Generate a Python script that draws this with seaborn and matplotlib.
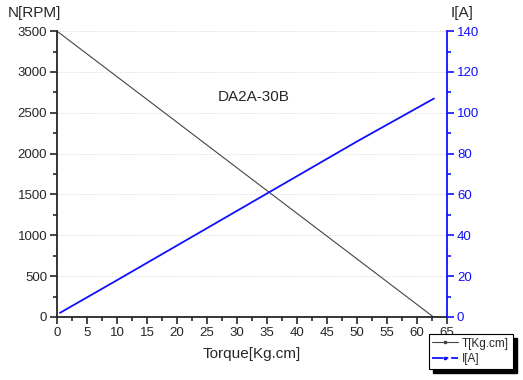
import numpy as np
import pandas as pd
import matplotlib.pyplot as plt
import seaborn as sns
from matplotlib.ticker import MultipleLocator
from matplotlib.lines import Line2D
from matplotlib.patches import Rectangle

torque_n = [0, 10, 20, 30, 40, 50, 62.7]
speed = [3500, 2942, 2384, 1825, 1267, 709, 0]
torque_i = [0.5, 10, 20, 30, 40, 50, 62.8]
current = [2, 18, 35, 52, 69, 86, 107]

df_n = pd.DataFrame({"torque": torque_n, "speed": speed})
df_i = pd.DataFrame({"torque": torque_i, "current": current})

sns.set_style("ticks")
plt.rcParams["font.family"] = ["Liberation Sans", "DejaVu Sans"]

fig = plt.figure(figsize=(5.23, 3.80), dpi=100)
ax = fig.add_axes([0.109, 0.166, 0.746, 0.752])
ax2 = ax.twinx()

sns.lineplot(data=df_n, x="torque", y="speed", ax=ax, color="#444444", lw=0.8)
sns.lineplot(data=df_i, x="torque", y="current", ax=ax2, color="#1010ff", lw=1.3)

ax.set_xlim(0, 65)
ax.set_ylim(0, 3500)
ax2.set_ylim(0, 140)
ax.xaxis.set_major_locator(MultipleLocator(5))
ax.xaxis.set_minor_locator(MultipleLocator(2.5))
ax.yaxis.set_major_locator(MultipleLocator(500))
ax.yaxis.set_minor_locator(MultipleLocator(250))
ax2.yaxis.set_major_locator(MultipleLocator(20))
ax2.yaxis.set_minor_locator(MultipleLocator(10))

ax.grid(axis="y", ls=(0, (1, 2)), color="#c8c8c8", lw=0.6)
for a in (ax, ax2):
    a.spines["top"].set_visible(False)
ax.spines["right"].set_visible(False)
ax.spines["left"].set_linewidth(1.3)
ax.spines["bottom"].set_linewidth(1.3)
ax2.spines["left"].set_visible(False)
ax2.spines["bottom"].set_visible(False)
ax2.spines["right"].set_color("#1010ff")
ax2.spines["right"].set_linewidth(1.3)

ax.tick_params(which="major", length=5, width=1.2, labelsize=9.5, direction="out", pad=2)
ax.tick_params(which="minor", length=3, width=1.2, direction="out")
ax2.tick_params(which="major", length=5, width=1.2, labelsize=9.5, colors="#1010ff", pad=2)
ax2.tick_params(which="minor", length=3, width=1.2, colors="#1010ff")

ax.set_xlabel("Torque[Kg.cm]", fontsize=11, labelpad=6)
ax.set_ylabel("")
ax2.set_ylabel("")
fig.text(0.015, 0.965, "N[RPM]", fontsize=11, va="center", ha="left")
fig.text(0.862, 0.965, "I[A]", fontsize=11, va="center", ha="left")
ax.text(32.7, 2690, "DA2A-30B", fontsize=11, ha="center", va="center")

handles = [
    Line2D([], [], color="#444444", lw=0.8, marker="s", markersize=2),
    Line2D([], [], color="#1010ff", lw=1.3, ls="-.", marker="s", markersize=2),
]
leg = fig.legend(handles, ["T[Kg.cm]", "I[A]"], loc="lower right",
                 bbox_to_anchor=(0.98, 0.03), fontsize=8.5, frameon=True,
                 fancybox=False, edgecolor="k", framealpha=1,
                 handlelength=2.2, handletextpad=0.3,
                 borderpad=0.3, labelspacing=0.3, borderaxespad=0)
leg.get_frame().set_linewidth(0.8)
leg.set_zorder(10)

# solid black drop shadow like the original
fig.canvas.draw()
bb = leg.get_window_extent().transformed(fig.transFigure.inverted())
dx, dy = 4 / 523, 4 / 380
fig.patches.append(Rectangle((bb.x0 + dx, bb.y0 - dy), bb.width, bb.height,
                             transform=fig.transFigure, color="k", zorder=9))

fig.savefig("out.png", dpi=100)
